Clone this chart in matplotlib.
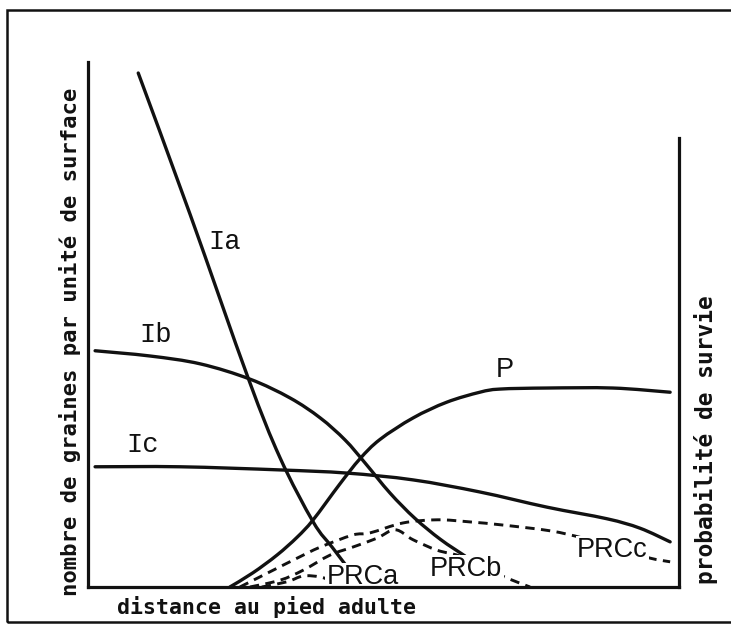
import matplotlib
matplotlib.use("Agg")
import matplotlib.pyplot as plt
from matplotlib.patches import Rectangle, PathPatch
from matplotlib.path import Path

# ---- data (x: distance, y: arbitrary units 0-10) ----
ia_x = [0.85, 1.73, 2.71, 3.25, 3.81, 4.13, 4.40]
ia_y = [9.79, 7.09, 3.98, 2.46, 1.24, 0.76, 0.36]

ib_x = [0.12, 1.05, 1.90, 2.74, 3.42, 3.93, 4.35, 4.69, 5.11, 5.53, 5.96, 6.38]
ib_y = [4.50, 4.40, 4.25, 3.96, 3.60, 3.22, 2.80, 2.36, 1.79, 1.31, 0.91, 0.59]

ic_x = [0.12, 1.56, 3.25, 4.38, 5.50, 6.63, 7.77, 8.78, 9.34, 9.85]
ic_y = [2.29, 2.29, 2.23, 2.17, 2.04, 1.81, 1.52, 1.30, 1.12, 0.86]

p_x = [2.40, 2.79, 3.20, 3.54, 3.81, 4.26, 4.60, 4.94, 5.50, 6.07, 6.63, 6.97, 7.77, 8.88, 9.85]
p_y = [0.00, 0.27, 0.61, 0.95, 1.28, 1.96, 2.44, 2.81, 3.22, 3.52, 3.71, 3.77, 3.79, 3.79, 3.71]

prca_x = [2.94, 3.37, 3.64, 3.93, 4.15, 4.35]
prca_y = [0.00, 0.10, 0.21, 0.19, 0.10, 0.00]

prcb_x = [2.74, 3.25, 3.64, 4.10, 4.48, 4.89, 5.20, 5.50, 5.91, 6.29, 6.72, 7.09, 7.48]
prcb_y = [0.00, 0.13, 0.32, 0.61, 0.76, 0.93, 1.09, 0.90, 0.70, 0.59, 0.36, 0.17, 0.00]

prcc_x = [2.57, 3.08, 3.54, 3.93, 4.48, 4.77, 5.33, 5.91, 6.46, 7.02, 7.82, 8.38, 9.00, 9.51, 9.85]
prcc_y = [0.00, 0.29, 0.55, 0.76, 0.99, 1.03, 1.22, 1.28, 1.24, 1.18, 1.07, 0.93, 0.72, 0.55, 0.48]

curve_labels = ["Ia", "Ib", "Ic", "P", "PRCa", "PRCb", "PRCc"]
label_x = [2.32, 1.15, 0.93, 7.06, 4.65, 6.40, 8.87]
label_y = [6.57, 4.80, 2.70, 4.13, 0.19, 0.34, 0.70]

xlabel = "distance au pied adulte"
ylabel_left = "nombre de graines par unité de surface"
ylabel_right = "probabilité de survie"


def smooth_path(xs, ys):
    """Catmull-Rom through the read points, expressed as cubic Bezier segments."""
    pts = list(zip(xs, ys))
    verts = [pts[0]]
    codes = [Path.MOVETO]
    n = len(pts)
    for i in range(n - 1):
        p0 = pts[i - 1] if i > 0 else pts[i]
        p1 = pts[i]
        p2 = pts[i + 1]
        p3 = pts[i + 2] if i + 2 < n else pts[i + 1]
        c1 = (p1[0] + (p2[0] - p0[0]) / 6, p1[1] + (p2[1] - p0[1]) / 6)
        c2 = (p2[0] - (p3[0] - p1[0]) / 6, p2[1] - (p3[1] - p1[1]) / 6)
        verts += [c1, c2, p2]
        codes += [Path.CURVE4] * 3
    return Path(verts, codes)


W, H = 731, 629
fig = plt.figure(figsize=(W / 100, H / 100), dpi=100)
fig.patch.set_facecolor("white")

col = "#111111"

# outer frame
fig.add_artist(Rectangle((7 / W, 1 - 622 / H), 1.2, (622 - 10) / H,
                         transform=fig.transFigure, fill=False,
                         lw=1.8, edgecolor=col))

ax = fig.add_axes([88 / W, 1 - 587 / H, (679 - 88) / W, (587 - 62) / H])
ax.set_xlim(0, 10)
ax.set_ylim(0, 10)
ax.set_xticks([])
ax.set_yticks([])
ax.set_facecolor("none")
ax.spines["top"].set_visible(False)
for s in ("left", "bottom", "right"):
    ax.spines[s].set_linewidth(2.3)
    ax.spines[s].set_color(col)
ax.spines["right"].set_bounds(0, 8.55)

solid = dict(edgecolor=col, lw=2.4, fill=False, capstyle="round", zorder=2)
dash = dict(edgecolor=col, lw=2.1, fill=False, linestyle=(0, (3.2, 2.2)), zorder=2)
for xs, ys in ((ia_x, ia_y), (ib_x, ib_y), (ic_x, ic_y), (p_x, p_y)):
    ax.add_patch(PathPatch(smooth_path(xs, ys), **solid))
for xs, ys in ((prca_x, prca_y), (prcb_x, prcb_y), (prcc_x, prcc_y)):
    ax.add_patch(PathPatch(smooth_path(xs, ys), **dash))

mono = ["Liberation Mono", "DejaVu Sans Mono"]
sans = ["Liberation Sans", "DejaVu Sans"]
for name, lx, ly in zip(curve_labels, label_x, label_y):
    if name.startswith("I"):
        ax.text(lx, ly, name, family=mono, fontsize=19.5, color=col,
                ha="center", va="center", zorder=3)
    elif name == "P":
        ax.text(lx, ly, name, family=sans, fontsize=19.5, color=col,
                ha="center", va="center", zorder=3)
    else:
        ax.text(lx, ly, name, family=sans, fontsize=19.5, color=col,
                ha="center", va="center", zorder=2.2,
                bbox=dict(boxstyle="square,pad=0.05", fc="white", ec="none"))

lab = dict(family=["DejaVu Sans Mono"], fontweight="bold", color=col)
fig.text(117 / W, 1 - 607 / H, xlabel, fontsize=15.5, ha="left", va="center", **lab)
fig.text(70 / W, 1 - 342 / H, ylabel_left, fontsize=16, rotation=90,
         ha="center", va="center", **lab)
fig.text(706 / W, 1 - 440 / H, ylabel_right, fontsize=16.5, rotation=90,
         ha="center", va="center", **lab)

fig.savefig("out.png", dpi=100, facecolor="white")
